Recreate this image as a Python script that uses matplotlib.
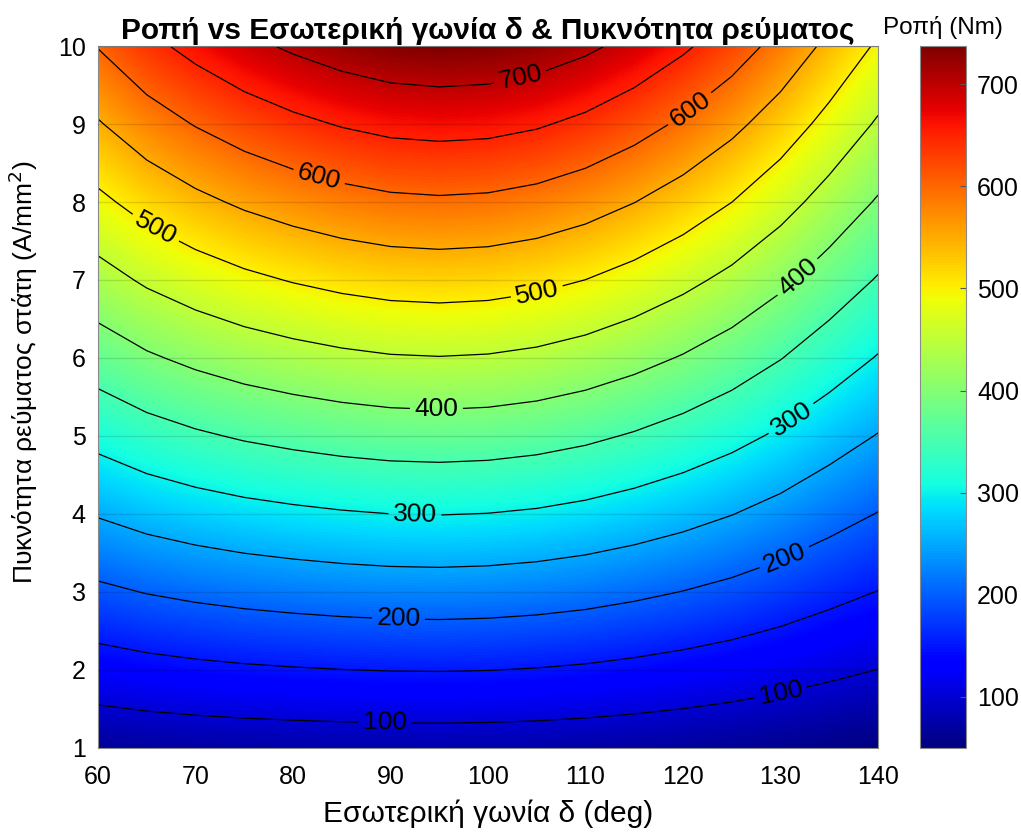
import numpy as np
import matplotlib
matplotlib.use("Agg")
import matplotlib.pyplot as plt

plt.rcParams["font.family"] = ["Liberation Sans", "DejaVu Sans"]

# Internal angle δ (deg) and stator current density J (A/mm^2)
delta_deg = [60, 65, 70, 75, 80, 85, 90, 95, 100, 105, 110, 115, 120, 125, 130, 135, 140]
current_density = [1, 2, 3, 4, 5, 6, 7, 8, 9, 10]

# Torque (Nm), one row per current density, columns follow delta_deg
torque_j01 = [64.8, 68.2, 70.7, 72.6, 73.9, 75.0, 75.8, 76.0, 75.5, 74.3, 72.3, 69.7, 66.6, 62.9, 58.8, 54.1, 49.8]
torque_j02 = [128.6, 135.4, 140.4, 144.3, 147.2, 149.5, 151.0, 151.5, 150.5, 148.1, 144.4, 139.1, 132.9, 125.8, 117.4, 108.2, 99.5]
torque_j03 = [191.3, 201.6, 209.2, 215.2, 219.7, 223.3, 225.7, 226.5, 225.1, 221.6, 216.1, 208.3, 199.1, 188.5, 176.0, 162.2, 149.1]
torque_j04 = [253.0, 266.8, 277.1, 285.3, 291.4, 296.4, 299.9, 301.0, 299.3, 294.8, 287.4, 277.3, 265.2, 251.0, 234.6, 216.1, 198.6]
torque_j05 = [313.8, 331.0, 344.0, 354.5, 362.5, 369.0, 373.5, 375.0, 373.0, 367.5, 358.5, 346.0, 331.0, 313.5, 293.0, 270.0, 248.0]
torque_j06 = [373.4, 394.2, 410.0, 422.9, 432.8, 440.9, 446.6, 448.5, 446.3, 439.9, 429.2, 414.5, 396.7, 375.8, 351.4, 323.8, 297.3]
torque_j07 = [432.1, 456.4, 475.0, 490.4, 502.5, 512.3, 519.1, 521.5, 519.1, 511.8, 499.7, 482.7, 462.1, 438.1, 409.6, 377.6, 346.5]
torque_j08 = [489.8, 517.6, 539.1, 557.1, 571.4, 583.0, 591.1, 594.0, 591.5, 583.4, 569.8, 550.7, 527.4, 500.2, 467.8, 431.3, 395.6]
torque_j09 = [546.4, 577.8, 602.3, 623.0, 639.5, 653.0, 662.6, 666.0, 663.5, 654.7, 639.5, 618.5, 592.6, 562.1, 526.0, 484.9, 444.6]
torque_j10 = [602.0, 637.0, 664.5, 688.0, 707.0, 722.5, 733.5, 737.5, 735.0, 725.5, 709.0, 686.0, 657.5, 624.0, 584.0, 538.5, 493.5]

minor_levels = [150, 250, 350, 450, 550, 650]
major_levels = [100, 200, 300, 400, 500, 600, 700]
label_spots = [(89.4, 1.29), (130.0, 1.71), (90.8, 2.63), (130.5, 3.41),
               (92.5, 3.96), (131.3, 5.18), (94.7, 5.33), (132.0, 7.0),
               (65.8, 7.64), (105.0, 6.85), (82.5, 8.24), (121.0, 9.14),
               (103.3, 9.59)]
x_ticks = [60, 70, 80, 90, 100, 110, 120, 130, 140]
y_ticks = [1, 2, 3, 4, 5, 6, 7, 8, 9, 10]
cbar_ticks = [100, 200, 300, 400, 500, 600, 700]

torque = np.array([torque_j01, torque_j02, torque_j03, torque_j04, torque_j05,
                   torque_j06, torque_j07, torque_j08, torque_j09, torque_j10])
X, Y = np.meshgrid(delta_deg, current_density)
vmin, vmax = torque.min(), torque.max()

fig = plt.figure(figsize=(10.21, 8.32), dpi=100)
ax = fig.add_axes([0.096, 0.101, 0.764, 0.8437])
cax = fig.add_axes([0.901, 0.101, 0.045, 0.8437])

# Smooth torque surface
dx = (delta_deg[1] - delta_deg[0]) / 2
dy = (current_density[1] - current_density[0]) / 2
im = ax.imshow(torque, origin="lower", cmap="jet", vmin=vmin, vmax=vmax,
               extent=[delta_deg[0] - dx, delta_deg[-1] + dx,
                       current_density[0] - dy, current_density[-1] + dy],
               aspect="auto", interpolation="bilinear",
               interpolation_stage="data", zorder=0)

# Iso-torque lines: unlabelled intermediate levels, then labelled ones
ax.contour(X, Y, torque, levels=minor_levels, colors="k", linewidths=0.9, zorder=2)
cs = ax.contour(X, Y, torque, levels=major_levels, colors="k", linewidths=0.9, zorder=2)
ax.clabel(cs, manual=label_spots, inline=True, fontsize=19, fmt="%d",
          inline_spacing=3)

ax.set_xlim(delta_deg[0], delta_deg[-1])
ax.set_ylim(current_density[0], current_density[-1])
ax.set_xticks(x_ticks)
ax.set_yticks(y_ticks)
ax.tick_params(length=0, labelsize=18)
ax.tick_params(axis="x", pad=12)
ax.tick_params(axis="y", pad=9)
ax.yaxis.grid(True, color="k", alpha=0.12, linewidth=1.0)
ax.set_axisbelow(False)
for s in ax.spines.values():
    s.set_color("#8a8a8a")
    s.set_linewidth(0.8)

ax.set_xlabel("Εσωτερική γωνία δ (deg)", fontsize=21.5, labelpad=8)
ax.set_ylabel("Πυκνότητα ρεύματος στάτη (A/mm$^2$)", fontsize=19, labelpad=12)
ax.yaxis.set_label_coords(-0.075, 0.535)
ax.set_title("Ροπή vs Εσωτερική γωνία δ & Πυκνότητα ρεύματος",
             fontsize=21.5, fontweight="bold", pad=5)

cb = fig.colorbar(im, cax=cax, ticks=cbar_ticks)
cb.outline.set_edgecolor("#8a8a8a")
cb.outline.set_linewidth(0.8)
cax.tick_params(labelsize=18, length=4, direction="in", color="#555555", pad=8)
cax.set_title("Ροπή (Nm)", fontsize=17.5, pad=9)

fig.savefig("out.png", dpi=100)
